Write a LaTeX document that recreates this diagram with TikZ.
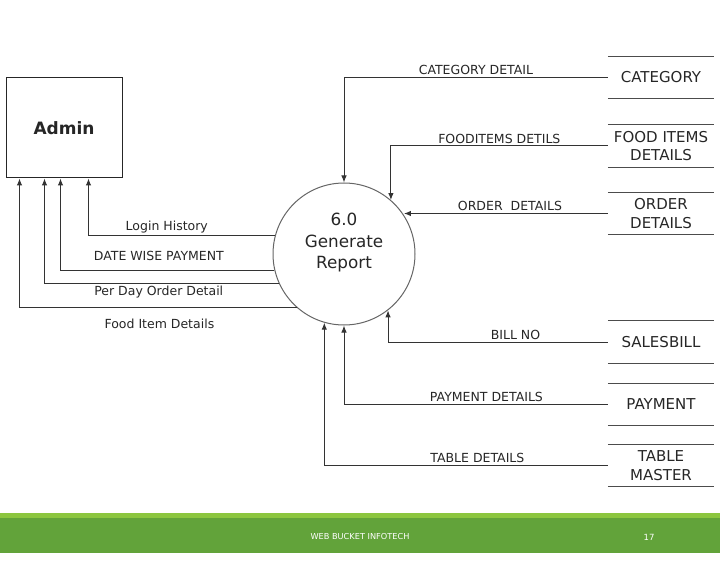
\documentclass[tikz,border=0pt]{standalone}
\usepackage{fontspec}
\setmainfont{DejaVu Sans}
\usetikzlibrary{arrows.meta}
\definecolor{barlight}{HTML}{8CC63F}
\definecolor{bardark}{HTML}{62A33A}

\begin{document}
\begin{tikzpicture}[
  x=1pt, y=-1pt,
  flow/.style = {-{Latex[length=7pt,width=5.5pt]}, line width=1pt, black!80},
  store/.style = {minimum width=106pt, minimum height=42pt, inner sep=0pt, align=center,
    font=\fontsize{15}{18.5}\selectfont, black!85},
  lbl/.style = {font=\fontsize{12.5}{14}\selectfont, black!85, inner sep=2pt}]
  \useasboundingbox (0,0) rectangle (720,588);

  % admin
  \node[draw, line width=1pt, black!85, minimum width=116pt, minimum height=100pt,
    font=\bfseries\fontsize{17}{20}\selectfont] (admin) at (64,128) {Admin};

  % proces 6.0
  \node[draw=black!60, circle, minimum size=142pt, line width=1pt] (gr) at (344,254) {};
  \node[align=center, font=\fontsize{16.8}{21.5}\selectfont, black!85] (grtxt) at (344,243)
    {6.0\\Generate\\Report};

  % data stores
  \node[store] (cat) at (661,77.5) {CATEGORY};
  \node[store] (food) at (661,146) {FOOD ITEMS\\DETAILS};
  \node[store] (ord) at (661,213.5) {ORDER\\DETAILS};
  \node[store] (sal) at (661,342) {SALESBILL};
  \node[store] (pay) at (661,404.5) {PAYMENT};
  \node[store] (tab) at (661,465.5) {TABLE\\MASTER};
  \foreach \s in {cat,food,ord,sal,pay,tab}
    \draw[black!70, line width=1pt] (\s.north west) -- (\s.north east)
      (\s.south west) -- (\s.south east);

  % toky zo skladov
  \draw[flow] (cat.west) -| (gr.north) node[lbl, above, pos=0.25] (lcat) {CATEGORY DETAIL};
  \draw[flow] (food.west) -| (gr.49.6) node[lbl, above, pos=0.25] (lfood) {FOODITEMS DETILS};
  \draw[flow] (ord.west) -- (ord.west -| gr.33.3) node[lbl, above, pos=0.48] (lord) {ORDER\ \ DETAILS};
  \draw[flow] (sal.west) -| (gr.-52.7) node[lbl, above, pos=0.21] (lsal) {BILL NO};
  \draw[flow] (pay.west) -| (gr.south) node[lbl, above, pos=0.23] (lpay) {PAYMENT DETAILS};
  \draw[flow] (tab.west) -| (gr.-106.4) node[lbl, above, pos=0.23] (ltab) {TABLE DETAILS};

  % toky do admina
  \draw[flow] (gr.165.3) -| ([xshift=83pt]admin.south west)
    node[lbl, above, pos=0.29] (llog) {Login History};
  \draw[flow] (gr.193.9) -| ([xshift=55pt]admin.south west)
    node[lbl, above, pos=0.27, yshift=7pt] (ldate) {DATE WISE PAYMENT};
  \draw[flow] (gr.204.1) -| ([xshift=39pt]admin.south west)
    node[lbl, below, pos=0.256] (lday) {Per Day Order Detail};
  \draw[flow] (gr.229.5) -| ([xshift=14pt]admin.south west)
    node[lbl, below, pos=0.248, yshift=-9pt] (lfi) {Food Item Details};

  % paticka
  \fill[barlight] (0,513) rectangle (720,518);
  \fill[bardark] (0,518) rectangle (720,553);
  \node[font=\fontsize{8.2}{9}\selectfont, white] (foot) at (360,537) {WEB BUCKET INFOTECH};
  \node[font=\fontsize{8.5}{9}\selectfont, white] (pg) at (649,537) {17};
\end{tikzpicture}
\end{document}
